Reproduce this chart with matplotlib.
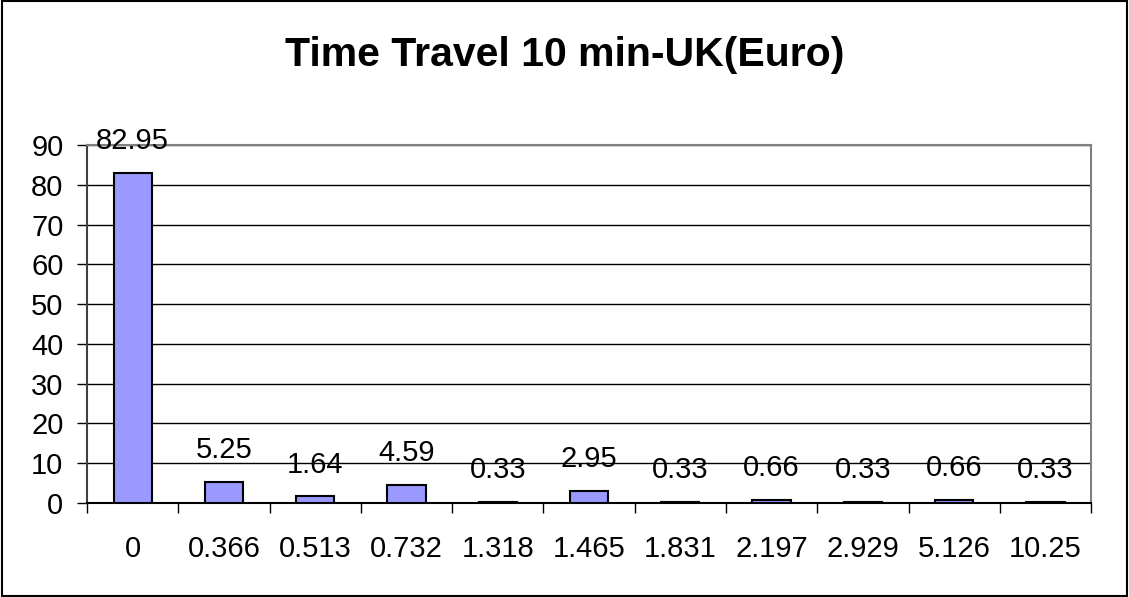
import numpy as np
import matplotlib.pyplot as plt
from matplotlib.patches import Rectangle

plt.rcParams['font.family'] = ['Liberation Sans', 'DejaVu Sans']

categories = ['0', '0.366', '0.513', '0.732', '1.318', '1.465', '1.831',
              '2.197', '2.929', '5.126', '10.25']
values = [82.95, 5.25, 1.64, 4.59, 0.33, 2.95, 0.33, 0.66, 0.33, 0.66, 0.33]
labels = ['82.95', '5.25', '1.64', '4.59', '0.33', '2.95', '0.33', '0.66',
          '0.33', '0.66', '0.33']

fig = plt.figure(figsize=(11.29, 5.97), dpi=100)
ax = fig.add_axes([0.0771, 0.1575, 0.8893, 0.5996])

x = np.arange(len(categories))
ax.bar(x, values, width=0.42, color='#9999FF', edgecolor='black', linewidth=1.5, zorder=3)

for xi, v, lab in zip(x, values, labels):
    ax.annotate(lab, (xi, v), xytext=(0, 23), textcoords='offset points',
                ha='center', va='center', fontsize=21, zorder=4)

ax.set_xlim(-0.5, len(categories) - 0.5)
ax.set_ylim(0, 90)
ax.set_yticks(np.arange(0, 91, 10))
ax.yaxis.grid(True, color='black', linewidth=1)
ax.set_axisbelow(True)

ax.set_xticks(x)
ax.set_xticklabels(categories)
ax.set_xticks(np.arange(-0.5, len(categories), 1), minor=True)
ax.tick_params(axis='x', which='major', length=0, pad=23, labelsize=21)
ax.tick_params(axis='x', which='minor', length=7, width=1, color='black')
ax.tick_params(axis='y', length=7, width=1, pad=10, labelsize=21)

ax.spines['top'].set_color('#808080')
ax.spines['right'].set_color('#808080')
ax.spines['left'].set_color('#404040')
ax.spines['bottom'].set_color('black')
for s in ax.spines.values():
    s.set_linewidth(1.5)

fig.text(0.5, 0.908, 'Time Travel 10 min-UK(Euro)', ha='center', va='center',
         fontsize=29.5, fontweight='bold')

fig.patches.append(Rectangle((0.002, 0.002), 0.996, 0.996, transform=fig.transFigure,
                             fill=False, edgecolor='black', linewidth=1.5))

fig.savefig('out.png', dpi=100)
plt.close(fig)
